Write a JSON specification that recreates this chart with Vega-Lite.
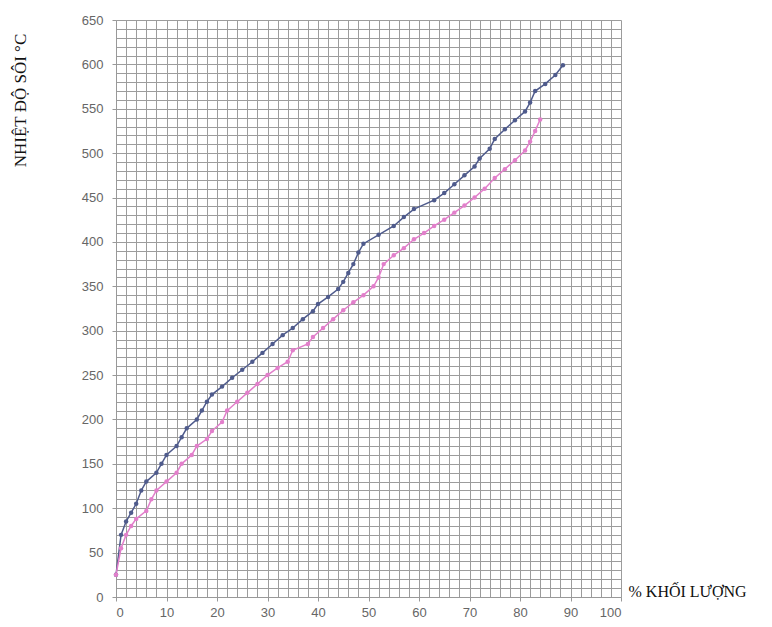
{
  "$schema": "https://vega.github.io/schema/vega-lite/v6.json",
  "width": 505,
  "height": 577,
  "autosize": "none",
  "padding": {"left": 116, "top": 20, "right": 151, "bottom": 30},
  "background": "white",
  "config": {"view": {"stroke": null}},
  "datasets": {
    "pts": [
      {"s": "A", "x": 0, "y": 25}, {"s": "A", "x": 1, "y": 70}, {"s": "A", "x": 2, "y": 85}, {"s": "A", "x": 3, "y": 95},
      {"s": "A", "x": 4, "y": 105}, {"s": "A", "x": 5, "y": 120}, {"s": "A", "x": 6, "y": 130}, {"s": "A", "x": 8, "y": 140},
      {"s": "A", "x": 9, "y": 150}, {"s": "A", "x": 10, "y": 160}, {"s": "A", "x": 12, "y": 170}, {"s": "A", "x": 13, "y": 180},
      {"s": "A", "x": 14, "y": 190}, {"s": "A", "x": 16, "y": 200}, {"s": "A", "x": 17, "y": 210}, {"s": "A", "x": 18, "y": 220},
      {"s": "A", "x": 19, "y": 228}, {"s": "A", "x": 21, "y": 237}, {"s": "A", "x": 23, "y": 247}, {"s": "A", "x": 25, "y": 256},
      {"s": "A", "x": 27, "y": 265}, {"s": "A", "x": 29, "y": 275}, {"s": "A", "x": 31, "y": 285}, {"s": "A", "x": 33, "y": 295},
      {"s": "A", "x": 35, "y": 303}, {"s": "A", "x": 37, "y": 313}, {"s": "A", "x": 39, "y": 322}, {"s": "A", "x": 40, "y": 330},
      {"s": "A", "x": 42, "y": 338}, {"s": "A", "x": 44, "y": 347}, {"s": "A", "x": 45, "y": 355}, {"s": "A", "x": 46, "y": 365},
      {"s": "A", "x": 47, "y": 375}, {"s": "A", "x": 48, "y": 388}, {"s": "A", "x": 49, "y": 398}, {"s": "A", "x": 52, "y": 408},
      {"s": "A", "x": 55, "y": 418}, {"s": "A", "x": 57, "y": 428}, {"s": "A", "x": 59, "y": 437}, {"s": "A", "x": 63, "y": 447},
      {"s": "A", "x": 65, "y": 455}, {"s": "A", "x": 67, "y": 465}, {"s": "A", "x": 69, "y": 475}, {"s": "A", "x": 71, "y": 485},
      {"s": "A", "x": 72, "y": 494}, {"s": "A", "x": 74, "y": 505}, {"s": "A", "x": 75, "y": 516}, {"s": "A", "x": 77, "y": 527},
      {"s": "A", "x": 79, "y": 537}, {"s": "A", "x": 81, "y": 547}, {"s": "A", "x": 82, "y": 557}, {"s": "A", "x": 83, "y": 570},
      {"s": "A", "x": 85, "y": 578}, {"s": "A", "x": 87, "y": 588}, {"s": "A", "x": 88.5, "y": 599},
      {"s": "B", "x": 0, "y": 25}, {"s": "B", "x": 1, "y": 55}, {"s": "B", "x": 2, "y": 70}, {"s": "B", "x": 3, "y": 80},
      {"s": "B", "x": 4, "y": 88}, {"s": "B", "x": 6, "y": 97}, {"s": "B", "x": 7, "y": 110}, {"s": "B", "x": 8, "y": 120},
      {"s": "B", "x": 10, "y": 130}, {"s": "B", "x": 12, "y": 140}, {"s": "B", "x": 13, "y": 150}, {"s": "B", "x": 15, "y": 160},
      {"s": "B", "x": 16, "y": 170}, {"s": "B", "x": 18, "y": 178}, {"s": "B", "x": 19, "y": 187}, {"s": "B", "x": 21, "y": 197},
      {"s": "B", "x": 22, "y": 210}, {"s": "B", "x": 24, "y": 220}, {"s": "B", "x": 26, "y": 230}, {"s": "B", "x": 28, "y": 240},
      {"s": "B", "x": 30, "y": 250}, {"s": "B", "x": 32, "y": 258}, {"s": "B", "x": 34, "y": 265}, {"s": "B", "x": 35, "y": 278},
      {"s": "B", "x": 38, "y": 285}, {"s": "B", "x": 39, "y": 293}, {"s": "B", "x": 41, "y": 303}, {"s": "B", "x": 43, "y": 313},
      {"s": "B", "x": 45, "y": 323}, {"s": "B", "x": 47, "y": 332}, {"s": "B", "x": 49, "y": 340}, {"s": "B", "x": 51, "y": 350},
      {"s": "B", "x": 52, "y": 360}, {"s": "B", "x": 53, "y": 375}, {"s": "B", "x": 55, "y": 385}, {"s": "B", "x": 57, "y": 393},
      {"s": "B", "x": 59, "y": 403}, {"s": "B", "x": 61, "y": 410}, {"s": "B", "x": 63, "y": 418}, {"s": "B", "x": 65, "y": 425},
      {"s": "B", "x": 67, "y": 433}, {"s": "B", "x": 69, "y": 441}, {"s": "B", "x": 71, "y": 450}, {"s": "B", "x": 73, "y": 460},
      {"s": "B", "x": 75, "y": 472}, {"s": "B", "x": 77, "y": 482}, {"s": "B", "x": 79, "y": 492}, {"s": "B", "x": 81, "y": 503},
      {"s": "B", "x": 82, "y": 513}, {"s": "B", "x": 83, "y": 525}, {"s": "B", "x": 84, "y": 538}
    ]
  },
  "data": {"name": "pts"},
  "mark": {"type": "line", "strokeWidth": 1.5, "point": {"filled": true, "size": 20}},
  "encoding": {
    "x": {
      "field": "x", "type": "quantitative",
      "scale": {"domain": [0, 100], "nice": false},
      "axis": {
        "values": [0,2,4,6,8,10,12,14,16,18,20,22,24,26,28,30,32,34,36,38,40,42,44,46,48,50,52,54,56,58,60,62,64,66,68,70,72,74,76,78,80,82,84,86,88,90,92,94,96,98,100],
        "labelExpr": "datum.value % 10 === 0 ? datum.label : ''",
        "grid": true, "gridColor": "#9c9c9c", "gridWidth": 1, "gridOpacity": 1,
        "domainColor": "#999999",
        "tickColor": "#999999", "tickSize": 4,
        "tickOpacity": {"condition": {"test": "datum.value % 10 === 0", "value": 1}, "value": 0},
        "labelColor": "#666666", "labelFont": "Liberation Sans", "labelFontSize": 13, "labelPadding": 5,
        "labelOverlap": false,
        "title": "% KHỐI LƯỢNG",
        "titleFont": "Liberation Serif", "titleFontSize": 16, "titleFontWeight": "normal", "titleColor": "#111111",
        "titleX": 512, "titleY": -6, "titleAlign": "left", "titleBaseline": "middle", "titleAngle": 0
      }
    },
    "y": {
      "field": "y", "type": "quantitative",
      "scale": {"domain": [0, 650], "nice": false},
      "axis": {
        "values": [0,10,20,30,40,50,60,70,80,90,100,110,120,130,140,150,160,170,180,190,200,210,220,230,240,250,260,270,280,290,300,310,320,330,340,350,360,370,380,390,400,410,420,430,440,450,460,470,480,490,500,510,520,530,540,550,560,570,580,590,600,610,620,630,640,650],
        "labelExpr": "datum.value % 50 === 0 ? datum.label : ''",
        "grid": true, "gridColor": "#9c9c9c", "gridWidth": 1, "gridOpacity": 1,
        "domainColor": "#999999",
        "tickColor": "#999999", "tickSize": 4,
        "tickOpacity": {"condition": {"test": "datum.value % 50 === 0", "value": 1}, "value": 0},
        "labelColor": "#666666", "labelFont": "Liberation Sans", "labelFontSize": 13, "labelPadding": 9,
        "labelOverlap": false,
        "title": "NHIỆT ĐỘ SÔI  °C",
        "titleFont": "Liberation Serif", "titleFontSize": 17, "titleFontWeight": "normal", "titleColor": "#111111",
        "titleX": -96, "titleY": 80, "titleAlign": "center", "titleBaseline": "middle", "titleAngle": 270
      }
    },
    "color": {
      "field": "s", "type": "nominal",
      "scale": {"domain": ["A", "B"], "range": ["#4f5b8c", "#e27fcb"]},
      "legend": null
    }
  }
}
